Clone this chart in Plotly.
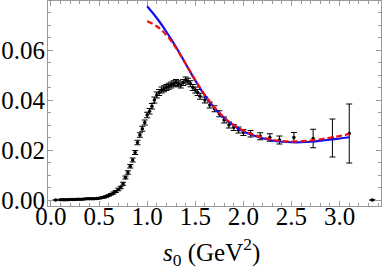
import plotly.graph_objects as go

# data points (s0, value, error)
s_data = [0.05, 0.100, 0.125, 0.150, 0.175, 0.200, 0.225, 0.250, 0.275, 0.300, 0.325, 0.350, 0.375,
          0.400, 0.425, 0.450, 0.475, 0.500, 0.525, 0.550, 0.575, 0.600, 0.625, 0.650, 0.675,
          0.700, 0.725, 0.750, 0.775, 0.800, 0.825, 0.850, 0.875, 0.900, 0.925, 0.950, 0.975,
          1.000, 1.025, 1.050, 1.075, 1.100, 1.125, 1.150, 1.175, 1.200, 1.225, 1.250, 1.275,
          1.300, 1.325, 1.350, 1.375, 1.400, 1.425, 1.450, 1.475, 1.500, 1.525, 1.550, 1.600,
          1.650, 1.700, 1.750, 1.800, 1.850, 1.900, 1.950, 2.000, 2.075, 2.175, 2.275, 2.375,
          2.525, 2.725, 2.925, 3.100, 3.340]
v_data = [0.0000, 0.0001, 0.0001, 0.0001, 0.0001, 0.0002, 0.0002, 0.0002, 0.0003, 0.0003, 0.0003, 0.0004, 0.0005,
          0.0005, 0.0005, 0.0005, 0.0006, 0.0007, 0.0009, 0.0011, 0.0014, 0.0018, 0.0023, 0.0028, 0.0034,
          0.0042, 0.0050, 0.0065, 0.0090, 0.0110, 0.0135, 0.0160, 0.0190, 0.0230, 0.0260, 0.0285, 0.0310,
          0.0340, 0.0355, 0.0375, 0.0400, 0.0420, 0.0430, 0.0440, 0.0445, 0.0450, 0.0455, 0.0460, 0.0465,
          0.0470, 0.0465, 0.0460, 0.0470, 0.0480, 0.0475, 0.0465, 0.0450, 0.0440, 0.0430, 0.0415, 0.0400,
          0.0380, 0.0365, 0.0345, 0.0320, 0.0300, 0.0290, 0.0280, 0.0270, 0.0265, 0.0255, 0.0250, 0.0240,
          0.0250, 0.0246, 0.0248, 0.0266, 0.0000]
e_data = [0.0, 0.0002, 0.0002, 0.0002, 0.0002, 0.0002, 0.0002, 0.0002, 0.0002, 0.0002, 0.0002, 0.0002, 0.0002,
          0.0002, 0.0002, 0.0002, 0.0002, 0.0002, 0.0002, 0.0003, 0.0003, 0.0003, 0.0003, 0.0004, 0.0004,
          0.0005, 0.0005, 0.0006, 0.0006, 0.0007, 0.0007, 0.0008, 0.0008, 0.0009, 0.0009, 0.0010, 0.0010,
          0.0011, 0.0011, 0.0011, 0.0012, 0.0012, 0.0012, 0.0012, 0.0012, 0.0012, 0.0012, 0.0012, 0.0012,
          0.0012, 0.0012, 0.0012, 0.0012, 0.0012, 0.0012, 0.0012, 0.0012, 0.0012, 0.0012, 0.0012, 0.0012,
          0.0012, 0.0012, 0.0012, 0.0012, 0.0012, 0.0012, 0.0012, 0.0012, 0.0013, 0.0014, 0.0015, 0.0016,
          0.0020, 0.0037, 0.0076, 0.0118, 0.0]

# theory curves
s_curve = [1.00, 1.10, 1.20, 1.30, 1.40, 1.50, 1.60, 1.70, 1.80, 1.90, 2.00,
           2.10, 2.20, 2.30, 2.40, 2.50, 2.60, 2.70, 2.80, 2.90, 3.00, 3.10]
blue_vals = [0.0775, 0.0728, 0.0673, 0.0612, 0.0545, 0.0478, 0.0418, 0.0368, 0.0328, 0.0298, 0.0275,
             0.0259, 0.0247, 0.0238, 0.0233, 0.0231, 0.0231, 0.0233, 0.0237, 0.0241, 0.0246, 0.0251]
red_vals = [0.0715, 0.0695, 0.0660, 0.0608, 0.0545, 0.0480, 0.0420, 0.0370, 0.0330, 0.0300, 0.0278,
            0.0262, 0.0250, 0.0241, 0.0236, 0.0234, 0.0235, 0.0238, 0.0243, 0.0249, 0.0256, 0.0264]

x_ticks = [0.0, 0.5, 1.0, 1.5, 2.0, 2.5, 3.0]
x_tick_labels = ["0.0", "0.5", "1.0", "1.5", "2.0", "2.5", "3.0"]
y_ticks = [0.00, 0.02, 0.04, 0.06]
y_tick_labels = ["0.00", "0.02", "0.04", "0.06"]

fig = go.Figure()
fig.add_trace(go.Scatter(
    x=s_data, y=v_data, mode="markers",
    marker=dict(color="black", size=3.5),
    error_y=dict(type="data", array=e_data, color="black", thickness=1, width=3),
    showlegend=False))
fig.add_trace(go.Scatter(
    x=s_curve, y=blue_vals, mode="lines", line=dict(color="#1010ee", width=2.2, shape="spline"),
    showlegend=False))
fig.add_trace(go.Scatter(
    x=s_curve, y=red_vals, mode="lines", line=dict(color="#ee1010", width=2.2, dash="6px,3px", shape="spline"),
    showlegend=False))

font = dict(family="Liberation Serif", size=25, color="black")
axis_common = dict(showline=True, linecolor="#999999", linewidth=1, mirror="allticks",
                   ticks="inside", tickcolor="#999999", ticklen=5, tickwidth=1, automargin=False,
                   showgrid=False, zeroline=False, tickfont=font)
fig.update_xaxes(range=[-0.03, 3.43], tickvals=x_ticks, ticktext=x_tick_labels,
                 ticklabelstandoff=-12,
                 minor=dict(dtick=0.1, ticks="inside", ticklen=3, tickcolor="#999999", showgrid=False),
                 **axis_common)
fig.update_yaxes(range=[-0.0024, 0.0796], tickvals=y_ticks, ticktext=y_tick_labels,
                 ticklabelstandoff=-3,
                 minor=dict(dtick=0.005, ticks="inside", ticklen=3, tickcolor="#999999", showgrid=False),
                 **axis_common)
fig.add_annotation(text="<i>s</i><sub>0</sub> (GeV<sup>2</sup>)", xref="paper", yref="paper",
                   x=0.49, y=-0.225, yanchor="middle", showarrow=False, font=font)
fig.update_layout(width=382, height=273, margin=dict(l=48, r=1, t=1, b=67),
                  plot_bgcolor="white", paper_bgcolor="white")
fig.write_html("out.html", config={"displayModeBar": False},
               post_script="document.body.style.margin='0';document.body.style.padding='0';")
